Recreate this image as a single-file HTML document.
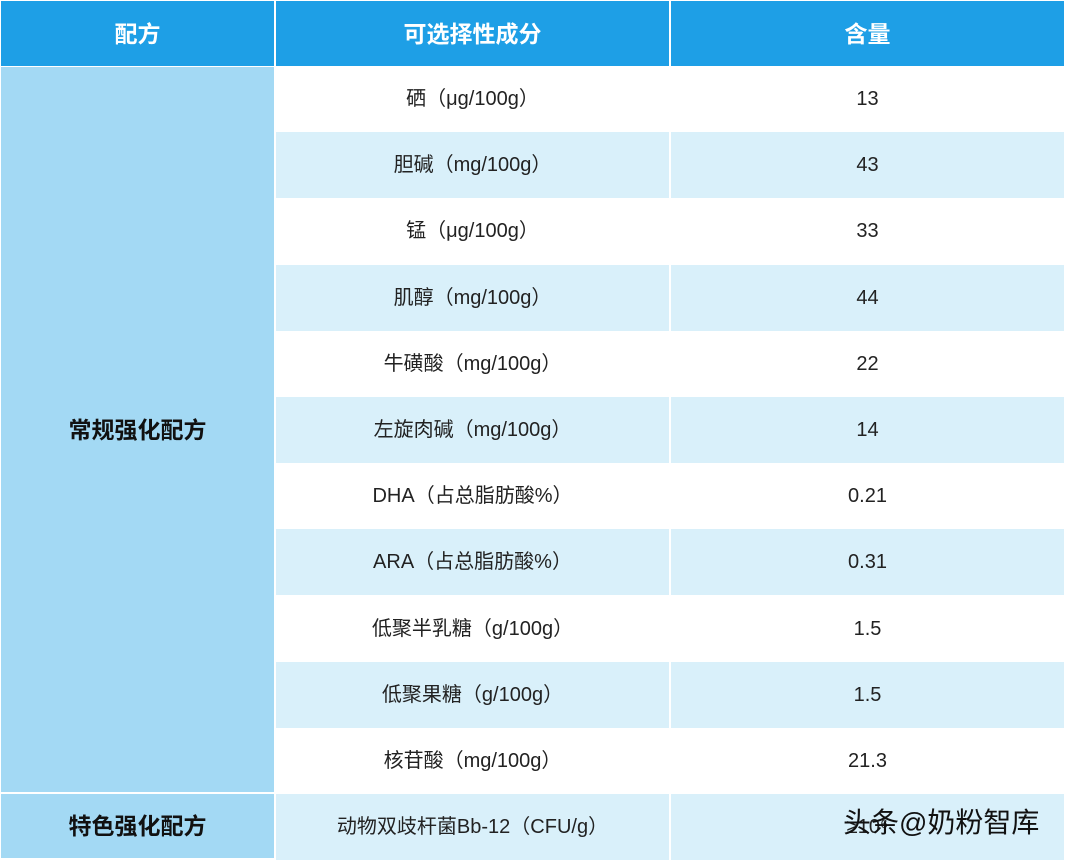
<!DOCTYPE html>
<html><head><meta charset="utf-8"><style>
body{margin:0;width:1067px;height:860px;background:#fff;overflow:hidden;font-family:"Liberation Sans","Noto Sans CJK SC",sans-serif;position:relative}
div.c{position:absolute;display:flex;align-items:center;justify-content:center;box-sizing:border-box;font-size:20px;color:#222;line-height:20px}
div.c span{display:block;line-height:20px;height:20px}
.h{background:#1E9FE6;color:#fff!important;font-weight:bold;font-size:23px!important}
.l{background:#A3D9F4;font-weight:bold;font-size:23px!important;color:#111!important}
</style></head><body>
<div class="c h" style="left:1px;top:1px;width:273px;height:65px">配方</div>
<div class="c h" style="left:276px;top:1px;width:393px;height:65px">可选择性成分</div>
<div class="c h" style="left:671px;top:1px;width:393px;height:65px">含量</div>
<div class="c l" style="left:1px;top:67px;width:273px;height:725px">常规强化配方</div>
<div class="c l" style="left:1px;top:794px;width:273px;height:64px">特色强化配方</div>
<div id="rows"></div>
<script>
var d=[["硒（μg/100g）","13"],["胆碱（mg/100g）","43"],["锰（μg/100g）","33"],["肌醇（mg/100g）","44"],["牛磺酸（mg/100g）","22"],["左旋肉碱（mg/100g）","14"],["DHA（占总脂肪酸%）","0.21"],["ARA（占总脂肪酸%）","0.31"],["低聚半乳糖（g/100g）","1.5"],["低聚果糖（g/100g）","1.5"],["核苷酸（mg/100g）","21.3"],["动物双歧杆菌Bb-12（CFU/g）","≥10⁶"]];
var h="";
d.forEach(function(r,i){var t=66+i*66.2,bg=i%2?"#D9F0FA":"#fff";
h+='<div class="c" style="left:276px;top:'+t+'px;width:393px;height:66px;background:'+bg+'"><span>'+r[0]+'</span></div>';
h+='<div class="c" style="left:671px;top:'+t+'px;width:393px;height:66px;background:'+bg+'"><span>'+r[1]+'</span></div>';});
document.getElementById("rows").innerHTML=h;
</script>
<div class="c" style="left:843px;top:800px;width:220px;height:46px;font-size:28px;line-height:28px;color:#111;justify-content:flex-start">头条@奶粉智库</div>
</body></html>
